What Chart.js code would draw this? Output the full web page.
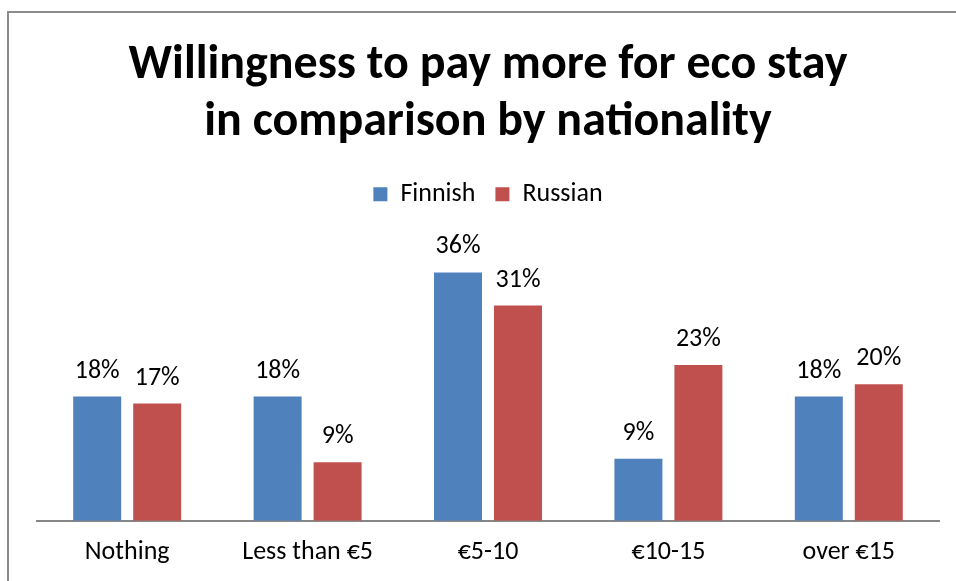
<!DOCTYPE html>
<html>
<head>
<meta charset="utf-8">
<script src="https://cdn.jsdelivr.net/npm/chart.js@4/dist/chart.umd.min.js"></script>
<style>
  html, body { margin: 0; padding: 0; background: #fff; }
  #wrap { position: relative; width: 956px; height: 581px; }
</style>
</head>
<body>
<div id="wrap"><canvas id="myChart" width="956" height="581"></canvas></div>
<script>
const categories = ['Nothing', 'Less than €5', '€5-10', '€10-15', 'over €15']
const finnish = [18, 18, 36, 9, 18]
const russian = [17, 8.5, 31.2, 22.6, 19.8]

const FONT = "Carlito, Lato, 'Noto Sans', sans-serif"

// grey frame of the original chart box (only left and top edges show)
const framePlugin = {
  id: 'frame',
  beforeDraw(chart) {
    const { ctx } = chart
    ctx.save()
    ctx.strokeStyle = '#8c8c8c'
    ctx.lineWidth = 2
    ctx.beginPath()
    ctx.moveTo(8, chart.height + 5)
    ctx.lineTo(8, 12)
    ctx.lineTo(chart.width + 5, 12)
    ctx.stroke()
    ctx.restore()
  },
}

// percent labels above each bar
const valueLabels = {
  id: 'valueLabels',
  afterDatasetsDraw(chart) {
    const { ctx } = chart
    ctx.save()
    ctx.font = `26px ${FONT}`
    ctx.fillStyle = '#000'
    ctx.textAlign = 'center'
    ctx.textBaseline = 'alphabetic'
    chart.data.datasets.forEach((ds, i) => {
      chart.getDatasetMeta(i).data.forEach((bar, j) => {
        ctx.fillText(`${Math.round(ds.data[j])}%`, bar.x, bar.y - 19)
      })
    })
    ctx.restore()
  },
}

const ctx = document.getElementById('myChart').getContext('2d')
const myChart = new Chart(ctx, {
  type: 'bar',
  data: {
    labels: categories,
    datasets: [
      {
        label: 'Finnish',
        data: finnish,
        backgroundColor: '#4F81BD',
      },
      {
        label: 'Russian',
        data: russian,
        backgroundColor: '#C0504D',
      },
    ],
  },
  options: {
    responsive: false,
    animation: false,
    categoryPercentage: 0.665,
    barPercentage: 0.8,
    layout: {
      padding: { left: 37, right: 17, top: 37, bottom: -3 },
    },
    plugins: {
      title: {
        display: true,
        text: ['Willingness to pay more for eco stay', 'in comparison by nationality'],
        color: '#000',
        font: { family: FONT, size: 48, weight: 'bold', lineHeight: 1.19 },
        padding: { top: 0, bottom: 10 },
      },
      legend: {
        position: 'top',
        labels: {
          color: '#000',
          font: { family: FONT, size: 26 },
          boxWidth: 14,
          boxHeight: 14,
          padding: 20,
        },
      },
      tooltip: { enabled: false },
    },
    scales: {
      x: {
        grid: { display: false, drawTicks: false },
        border: { display: true, color: '#868686', width: 2 },
        ticks: { color: '#000', font: { family: FONT, size: 26 }, padding: 16 },
      },
      y: {
        display: false,
        min: 0,
        max: 44,
      },
    },
  },
  plugins: [framePlugin, valueLabels],
})
</script>
</body>
</html>
